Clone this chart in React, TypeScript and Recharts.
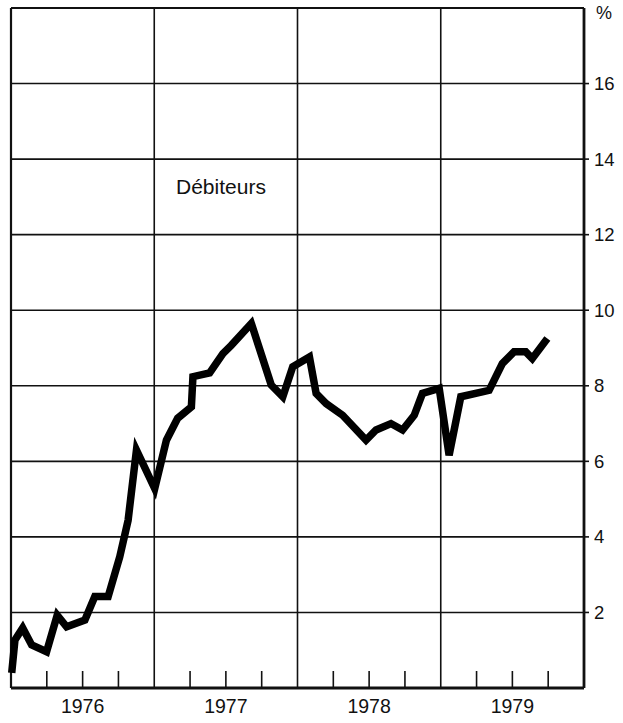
import React from 'react';
import { LineChart, Line, XAxis, YAxis, CartesianGrid, ReferenceLine } from 'recharts';

// months since Jan 1976 (fractional) and rate in %
const months = [
  0.06, 0.33, 0.98, 1.73, 2.98, 3.87, 4.66, 6.19, 7.02, 8.14, 9.11, 9.81, 10.51,
  12.04, 13.02, 13.96, 15.11, 15.24, 16.64, 17.75, 18.45, 20.13, 21.8, 22.77, 23.6,
  25.0, 25.56, 26.4, 27.78, 29.74, 30.58, 31.83, 32.8, 33.78, 34.47, 35.87,
  36.7, 37.68, 40.05, 41.16, 42.14, 43.12, 43.67, 44.93,
];
const debiteurs = [
  0.4, 1.27, 1.59, 1.14, 0.96, 1.93, 1.62, 1.8, 2.42, 2.42, 3.47, 4.44, 6.3,
  5.28, 6.56, 7.14, 7.44, 8.24, 8.34, 8.85, 9.07, 9.65, 8.02, 7.71, 8.5,
  8.76, 7.8, 7.53, 7.22, 6.56, 6.83, 7.0, 6.83, 7.22, 7.8, 7.93,
  6.16, 7.71, 7.88, 8.59, 8.9, 8.9, 8.72, 9.25,
];

const years = ['1976', '1977', '1978', '1979'];
const quarterTicks = [3, 6, 9, 15, 18, 21, 27, 30, 33, 39, 42, 45];
const yearBounds = [12, 24, 36];
const yTicks = [2, 4, 6, 8, 10, 12, 14, 16, 18];

const data = months.map((m, i) => ({ m, v: debiteurs[i] }));

const FONT = '"Liberation Sans", Arial, Helvetica, sans-serif';

function BottomTick({ x, y, payload }: any) {
  const v = payload.value;
  const isMid = (v - 6) % 12 === 0;
  return (
    <g>
      <line x1={x} x2={x} y1={y - 17} y2={y} stroke="#111" strokeWidth={1.6} />
      {isMid && (
        <text x={x} y={y + 25} textAnchor="middle" fontSize={19.5} fontFamily={FONT} fill="#111">
          {years[(v - 6) / 12]}
        </text>
      )}
    </g>
  );
}

function RightTick({ x, y, payload }: any) {
  const v = payload.value;
  if (v === 18) {
    return (
      <text x={x + 12} y={y + 11} fontSize={18} fontFamily={FONT} fill="#111">%</text>
    );
  }
  return (
    <g>
      <line x1={x} x2={x + 5} y1={y} y2={y} stroke="#111" strokeWidth={1.6} />
      <text x={x + 10} y={y} dy="0.35em" fontSize={18.5} fontFamily={FONT} fill="#111">
        {v}
      </text>
    </g>
  );
}

export default function App() {
  return (
    <div style={{ position: 'absolute', left: 0, top: 0, width: 623, height: 723, background: '#fff' }}>
      <LineChart width={623} height={723} data={data} margin={{ top: 8, right: 0, left: 11, bottom: 0 }}>
        <CartesianGrid vertical={false} stroke="#111" strokeWidth={1.6} />
        {yearBounds.map((b) => (
          <ReferenceLine key={b} x={b} stroke="#111" strokeWidth={1.6} />
        ))}
        <ReferenceLine x={0} stroke="#111" strokeWidth={2.2} />
        <ReferenceLine y={18} stroke="#111" strokeWidth={2.2} />
        <XAxis
          dataKey="m"
          type="number"
          domain={[0, 48]}
          ticks={quarterTicks}
          interval={0}
          height={35}
          tickSize={0}
          tickMargin={0}
          tickLine={false}
          axisLine={{ stroke: '#111', strokeWidth: 2.8 }}
          tick={<BottomTick />}
        />
        <YAxis
          orientation="right"
          type="number"
          domain={[0, 18]}
          ticks={yTicks}
          interval={0}
          width={39}
          tickSize={0}
          tickMargin={0}
          tickLine={false}
          axisLine={{ stroke: '#111', strokeWidth: 2.8 }}
          tick={<RightTick />}
        />
        <Line
          type="linear"
          dataKey="v"
          stroke="#000"
          strokeWidth={7.5}
          strokeLinejoin="miter"
          dot={false}
          isAnimationActive={false}
        />
      </LineChart>
      <div
        style={{
          position: 'absolute',
          left: 176,
          top: 176,
          fontFamily: FONT,
          fontSize: 21,
          color: '#111',
          lineHeight: 1,
        }}
      >
        Débiteurs
      </div>
    </div>
  );
}
